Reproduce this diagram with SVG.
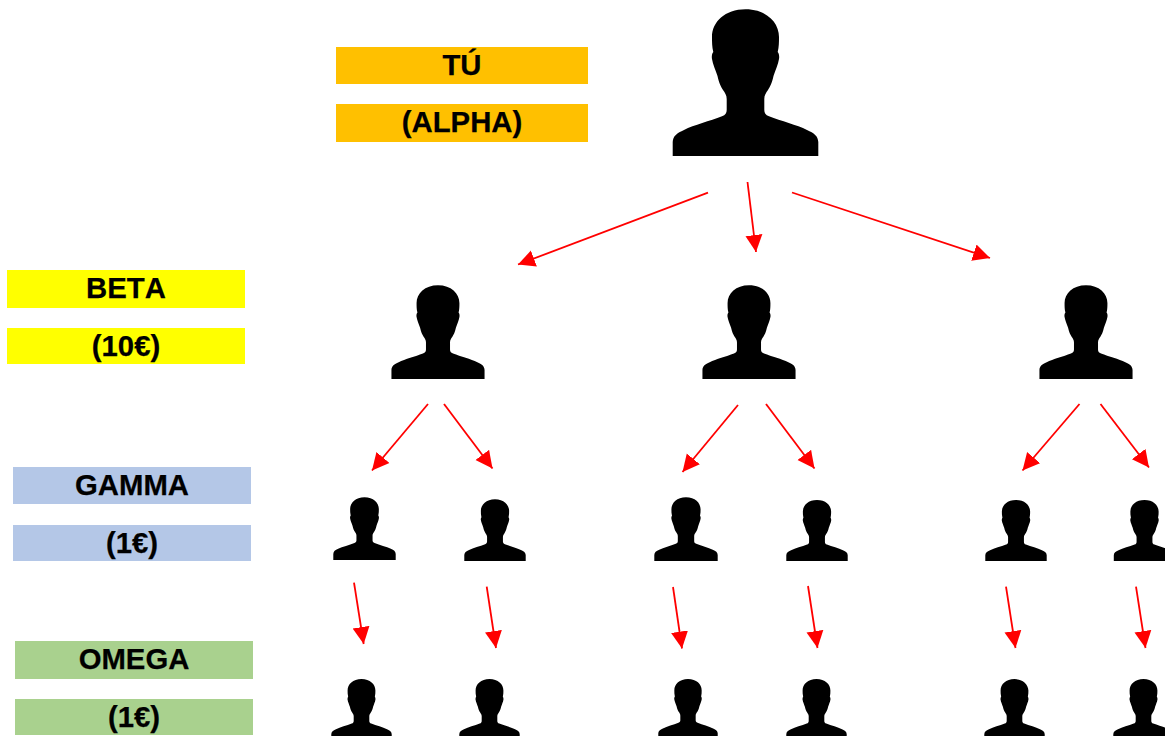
<svg xmlns="http://www.w3.org/2000/svg" width="1165" height="736" viewBox="0 0 1165 736">
<style>
text{font-family:"Liberation Sans",Arial,sans-serif;font-weight:700;font-size:29.3px;fill:#000;stroke:#000;stroke-width:.25;text-anchor:middle;font-kerning:none}
.c line{stroke:#f00;stroke-width:1.8;marker-end:url(#ah)}
.o{fill:#FFC000}.y{fill:#FFFF00}.b{fill:#B4C7E7}.g{fill:#A9D18E}
</style>
<defs>
<marker id="ah" markerUnits="userSpaceOnUse" markerWidth="20" markerHeight="20" refX="17" refY="9" orient="auto"><path d="M0 .5L17 9L0 17.5Z" fill="#f00"/></marker>
<filter id="soft" x="-5%" y="-5%" width="110%" height="110%"><feGaussianBlur stdDeviation=".7"/></filter>
<filter id="softer" x="-5%" y="-5%" width="110%" height="110%"><feGaussianBlur stdDeviation="1.9"/></filter>
<path id="shape" d="M73.5 .3C53 .3 40 13 40 28C40 33 40 38 41.3 43C39.7 45 39.6 48 40 50C40.8 55 43.5 61 45.5 67C47 74 49 78 51 81C53 84 54.7 86 54.7 90L54.7 101C54.7 104 53.5 106 50 107.3C38 112 22 116 12 121C5 124 1 127 .7 133L.7 147L146.3 147L146.3 133C146 127 142 124 135 121C125 116 109 112 97 107.3C93.5 106 92.3 104 92.3 101L92.3 90C92.3 86 94 84 96 81C98 78 100 74 101.5 67C103.5 61 106.2 55 107 50C107.4 48 107.3 45 105.7 43C107 38 107 33 107 28C107 13 94 .3 73.5 .3Z"/>
<symbol id="p" viewBox="0 0 147 147" preserveAspectRatio="none" overflow="visible"><use href="#shape" filter="url(#soft)"/></symbol>
<symbol id="q" viewBox="0 0 147 147" preserveAspectRatio="none" overflow="visible"><use href="#shape" filter="url(#softer)"/></symbol>
</defs>
<g id="label-alpha"><rect class="o" x="336" y="47" width="252" height="37"/><text x="462" y="75">TÚ</text><rect class="o" x="336" y="104" width="252" height="38"/><text x="462" y="132">(ALPHA)</text></g>
<g id="label-beta"><rect class="y" x="7" y="270" width="238" height="38"/><text x="126" y="298">BETA</text><rect class="y" x="7" y="328" width="238" height="36"/><text x="126" y="356">(10€)</text></g>
<g id="label-gamma"><rect class="b" x="13" y="467" width="238" height="37"/><text x="132" y="495">GAMMA</text><rect class="b" x="13" y="525" width="238" height="36"/><text x="132" y="553">(1€)</text></g>
<g id="label-omega"><rect class="g" x="15" y="641" width="238" height="38"/><text x="134" y="669">OMEGA</text><rect class="g" x="15" y="699" width="238" height="36"/><text x="134" y="727">(1€)</text></g>
<g class="c" id="connectors">
<line x1="708" y1="192.7" x2="518" y2="264.5"/>
<line x1="747.5" y1="182" x2="756" y2="252"/>
<line x1="792" y1="192.5" x2="990" y2="258"/>
<line x1="428" y1="404" x2="372" y2="470.5"/>
<line x1="444" y1="404" x2="492.5" y2="468.5"/>
<line x1="738" y1="405" x2="682.5" y2="472"/>
<line x1="766" y1="404" x2="814.5" y2="468.5"/>
<line x1="1079.500" y1="404" x2="1022.500" y2="470.500"/>
<line x1="1100.500" y1="404" x2="1149" y2="467.500"/>
<line x1="354" y1="582.700" x2="363.700" y2="644"/>
<line x1="486.700" y1="586.700" x2="496" y2="648"/>
<line x1="673" y1="587" x2="682" y2="648.500"/>
<line x1="808" y1="586" x2="817.500" y2="648"/>
<line x1="1006" y1="586.700" x2="1015.500" y2="648"/>
<line x1="1136" y1="586.700" x2="1145.500" y2="648"/>
</g>
<g id="alpha"><use href="#p" x="672" y="9" width="147" height="147"/></g>
<g id="beta-1"><use href="#p" x="391" y="285" width="94" height="94"/></g>
<g id="beta-2"><use href="#p" x="702" y="285" width="94" height="94"/></g>
<g id="beta-3"><use href="#p" x="1039" y="285" width="94" height="94"/></g>
<g id="gamma-1"><use href="#p" x="333" y="497" width="63" height="63"/></g>
<g id="gamma-2"><use href="#p" x="464" y="499" width="62" height="62"/></g>
<g id="gamma-3"><use href="#p" x="654" y="497" width="64" height="64"/></g>
<g id="gamma-4"><use href="#p" x="786" y="500" width="62" height="61"/></g>
<g id="gamma-5"><use href="#p" x="985" y="500" width="62" height="61"/></g>
<g id="gamma-6"><use href="#p" x="1113.500" y="500" width="62" height="61"/></g>
<g id="omega-1"><use href="#p" x="331" y="679" width="61" height="61"/></g>
<g id="omega-2"><use href="#p" x="459" y="679" width="61" height="61"/></g>
<g id="omega-3"><use href="#q" x="658" y="679" width="60" height="60"/></g>
<g id="omega-4"><use href="#p" x="786" y="679" width="61" height="61"/></g>
<g id="omega-5"><use href="#p" x="984" y="679" width="61" height="61"/></g>
<g id="omega-6"><use href="#p" x="1113" y="679" width="61" height="61"/></g>
</svg>
